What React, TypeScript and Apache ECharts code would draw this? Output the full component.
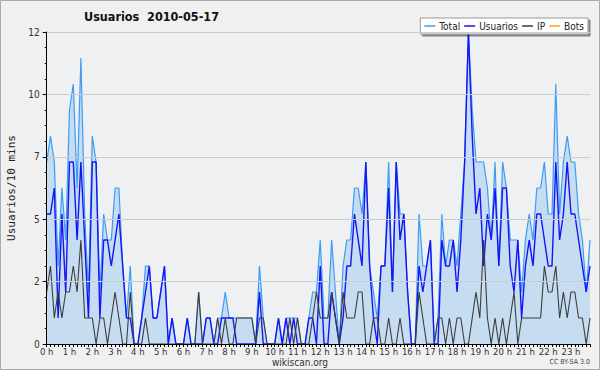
import React, { useEffect, useRef } from "react";
import * as echarts from "echarts";

const HOUR_LABELS = [
  "0 h", "1 h", "2 h", "3 h", "4 h", "5 h", "6 h", "7 h", "8 h", "9 h", "10 h", "11 h",
  "12 h", "13 h", "14 h", "15 h", "16 h", "17 h", "18 h", "19 h", "20 h", "21 h", "22 h", "23 h",
];

const TOTAL = [
  7, 8, 7, 3, 6, 4, 9, 10, 6, 11,
  5, 2, 8, 7, 2, 5, 4, 4, 6, 6,
  3, 1, 3, 0, 0, 1, 3, 3, 1, 1,
  2, 3, 0, 1, 0, 0, 0, 1, 0, 0,
  2, 0, 1, 1, 0, 1, 1, 2, 1, 1,
  1, 1, 1, 1, 1, 0, 3, 1, 0, 0,
  0, 1, 0, 1, 1, 1, 1, 0, 0, 1,
  2, 2, 4, 1, 1, 4, 2, 0, 3, 4,
  4, 6, 6, 5, 7, 3, 2, 1, 3, 3,
  7, 2, 7, 5, 5, 2, 0, 0, 5, 3,
  3, 4, 0, 1, 5, 3, 4, 4, 3, 5,
  7, 12, 9, 7, 7, 7, 6, 4, 7, 3,
  7, 6, 4, 4, 4, 2, 4, 5, 4, 6,
  6, 7, 5, 5, 10, 5, 7, 8, 7, 7,
  5, 4, 2, 4,
];

const USUARIOS = [
  5, 5, 6, 1, 5, 2, 7, 7, 4, 7,
  4, 1, 7, 7, 1, 4, 4, 3, 4, 5,
  3, 1, 1, 0, 0, 1, 2, 3, 1, 1,
  2, 3, 0, 1, 0, 0, 0, 1, 0, 0,
  0, 0, 1, 1, 0, 0, 1, 1, 1, 1,
  0, 0, 0, 0, 0, 0, 2, 0, 0, 0,
  0, 1, 0, 1, 0, 1, 0, 0, 0, 1,
  1, 0, 3, 0, 0, 2, 1, 0, 1, 3,
  3, 5, 4, 3, 7, 3, 1, 0, 3, 3,
  6, 2, 7, 4, 5, 2, 0, 0, 3, 2,
  3, 4, 0, 0, 4, 3, 3, 4, 2, 4,
  7, 12, 8, 5, 6, 3, 5, 4, 6, 3,
  6, 6, 3, 2, 4, 1, 3, 4, 3, 5,
  5, 4, 3, 3, 7, 4, 5, 7, 5, 5,
  4, 3, 2, 3,
];

const IP = [
  2, 3, 1, 2, 1, 2, 2, 3, 2, 4,
  1, 1, 1, 0, 1, 1, 0, 1, 2, 1,
  0, 0, 2, 0, 0, 0, 1, 0, 0, 0,
  0, 0, 0, 0, 0, 0, 0, 0, 0, 0,
  2, 0, 0, 0, 0, 1, 0, 1, 0, 0,
  1, 1, 1, 1, 1, 0, 1, 1, 0, 0,
  0, 0, 0, 0, 1, 0, 1, 0, 0, 0,
  1, 2, 1, 1, 1, 2, 1, 0, 2, 1,
  1, 1, 2, 2, 0, 0, 1, 1, 0, 0,
  1, 0, 0, 1, 0, 0, 0, 0, 2, 1,
  0, 0, 0, 1, 1, 0, 1, 0, 1, 1,
  0, 0, 1, 2, 1, 4, 1, 0, 1, 0,
  1, 0, 1, 2, 0, 1, 1, 1, 1, 1,
  1, 3, 2, 2, 3, 1, 2, 1, 2, 2,
  1, 1, 0, 1,
];

const BOTS: number[] = [];

const TIMES = TOTAL.map((_, i) => `${Math.floor(i / 6)}:${(i % 6) * 10}`);

const FONT = "'DejaVu Sans Condensed', 'DejaVu Sans', sans-serif";

export default function App() {
  const ref = useRef<HTMLDivElement>(null);
  useEffect(() => {
    document.body.style.margin = "0";
    const chart = echarts.init(ref.current!, null, { renderer: "svg" });
    chart.setOption({
      animation: false,
      backgroundColor: "#f0f0f0",
      textStyle: { fontFamily: FONT },
      title: {
        text: "Usuarios  2010-05-17",
        left: 84,
        top: 10,
        padding: 0,
        textStyle: { fontFamily: FONT, fontSize: 12.5, fontWeight: "bold", color: "#111" },
      },
      legend: {
        right: 12,
        top: 18,
        padding: [3, 4, 3, 4],
        backgroundColor: "#ffffff",
        borderColor: "#999",
        borderWidth: 1,
        shadowColor: "rgba(0,0,0,0.45)",
        shadowOffsetX: 2,
        shadowOffsetY: 2,
        shadowBlur: 0,
        icon: "rect",
        itemWidth: 11,
        itemHeight: 1.5,
        itemGap: 4,
        textStyle: { fontFamily: FONT, fontSize: 10, color: "#222", padding: [0, 0, 0, -1] },
        data: ["Total", "Usuarios", "IP", "Bots"],
      },
      graphic: [
        {
          type: "rect",
          shape: { x: 0.5, y: 0.5, width: 599, height: 369 },
          style: { fill: "none", stroke: "#aaaaaa", lineWidth: 1 },
          silent: true,
        },
        {
          type: "text",
          x: 300,
          y: 362,
          style: { text: "wikiscan.org", fill: "#333", font: `10px ${FONT}`, textAlign: "center", textVerticalAlign: "middle" },
        },
        {
          type: "text",
          x: 590,
          y: 362,
          style: { text: "CC BY-SA 3.0", fill: "#444", font: `7px ${FONT}`, textAlign: "right", textVerticalAlign: "middle" },
        },
      ],
      grid: {
        left: 46.7,
        right: 10,
        top: 32,
        bottom: 26,
        containLabel: false,
        outerBoundsMode: "none",
        show: true,
        backgroundColor: "#eef0f2",
        borderWidth: 0,
      },
      xAxis: {
        type: "category",
        data: TIMES,
        boundaryGap: false,
        z: 5,
        axisLine: { lineStyle: { color: "#000", width: 1 } },
        axisTick: { show: true, interval: 0, length: 3, lineStyle: { color: "#000" } },
        axisLabel: {
          interval: 5,
          margin: 2,
          fontSize: 9.5,
          color: "#333",
          fontFamily: FONT,
          formatter: (_v: string, idx: number) => HOUR_LABELS[Math.floor(idx / 6)],
        },
        splitLine: { show: false },
      },
      yAxis: {
        type: "value",
        min: 0,
        max: 12,
        interval: 2.4,
        z: 5,
        name: "Usuarios/10 mins",
        nameLocation: "middle",
        nameRotate: 90,
        nameGap: 30,
        nameTextStyle: { fontFamily: "'DejaVu Sans Mono', monospace", fontSize: 11, color: "#222" },
        axisLine: { show: true, lineStyle: { color: "#000", width: 1 } },
        axisTick: { show: true, length: 4, lineStyle: { color: "#000" } },
        minorTick: { show: true, splitNumber: 4, length: 2, lineStyle: { color: "#000" } },
        axisLabel: {
          margin: 7,
          fontSize: 10,
          color: "#333",
          fontFamily: FONT,
          formatter: (v: number) => String(Math.round(v)),
        },
        splitLine: { show: true, lineStyle: { color: "#cccccc", width: 1 } },
      },
      series: [
        {
          name: "Total",
          type: "line",
          data: TOTAL,
          symbol: "none",
          lineStyle: { color: "#3b9cf5", width: 1.2 },
          itemStyle: { color: "#3b9cf5" },
          areaStyle: { color: "#c6dcf0", opacity: 1 },
        },
        {
          name: "Usuarios",
          type: "line",
          data: USUARIOS,
          symbol: "none",
          lineStyle: { color: "#1515f5", width: 1.4 },
          itemStyle: { color: "#1515f5" },
        },
        {
          name: "IP",
          type: "line",
          data: IP,
          symbol: "none",
          lineStyle: { color: "#3c3c3c", width: 1.1 },
          itemStyle: { color: "#3c3c3c" },
        },
        {
          name: "Bots",
          type: "line",
          data: BOTS,
          symbol: "none",
          lineStyle: { color: "#ffa500", width: 1.2 },
          itemStyle: { color: "#ffa500" },
        },
      ],
    });
    return () => chart.dispose();
  }, []);
  return <div ref={ref} style={{ width: 600, height: 370 }} />;
}
